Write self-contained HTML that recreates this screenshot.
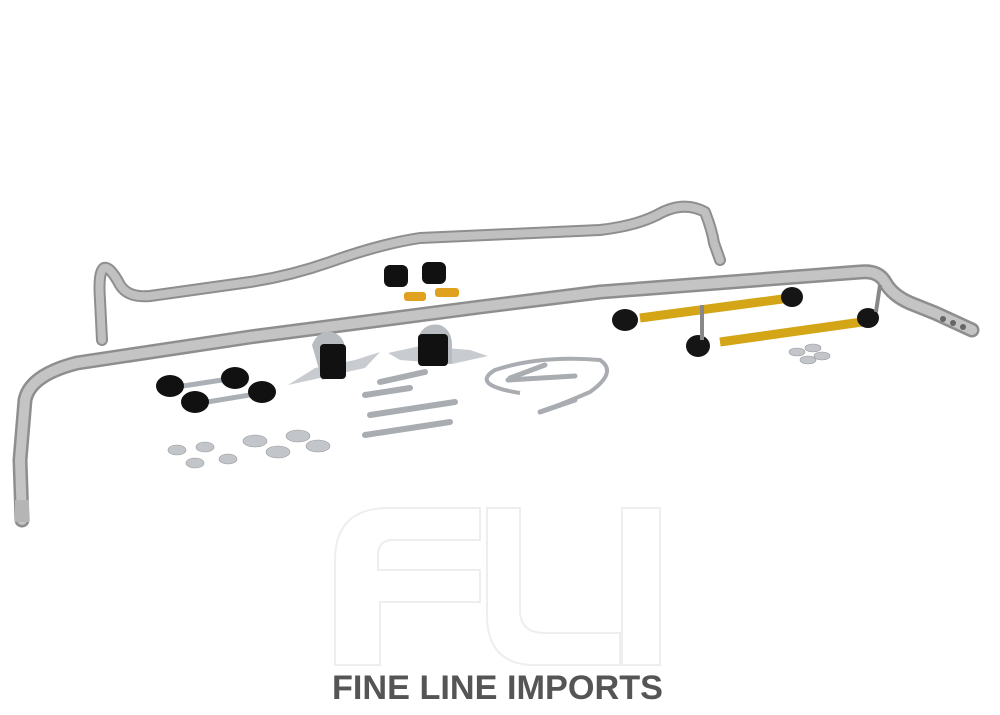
<!DOCTYPE html>
<html><head><meta charset="utf-8"><style>
html,body{margin:0;padding:0;background:#fff;width:1000px;height:715px;overflow:hidden}
svg{display:block}
</style></head><body>
<svg width="1000" height="715" viewBox="0 0 1000 715" xmlns="http://www.w3.org/2000/svg">
<rect width="1000" height="715" fill="#fff"/>
<g fill="none" stroke="#eeeeee" stroke-width="2">
<path d="M335 665 V560 Q335 510 385 508 H480 V540 H390 Q378 542 378 555 V570 H480 V602 H380 V665 Z"/>
<path d="M487 508 H520 V610 Q520 633 545 633 H620 V665 H535 Q487 665 487 615 Z"/>
<path d="M622 508 H660 V665 H622 Z"/>
</g>
<g fill="none" stroke-linecap="round" stroke-linejoin="round">
<path d="M102 340 L100 300 Q98 272 104 268 Q110 266 120 285 Q128 298 150 296 L250 282 Q290 276 330 262 Q380 244 420 238 L600 230 Q635 226 657 215 Q683 200 705 212 Q712 230 714 243 L720 260" stroke="#8e8e8e" stroke-width="12"/>
<path d="M102 340 L100 300 Q98 272 104 268 Q110 266 120 285 Q128 298 150 296 L250 282 Q290 276 330 262 Q380 244 420 238 L600 230 Q635 226 657 215 Q683 200 705 212 Q712 230 714 243 L720 260" stroke="#c0c0c0" stroke-width="8"/>
<path d="M22 520 L20 460 L25 400 Q30 375 77 363 L250 337 L480 307 L600 292 L860 272 Q878 270 885 282 Q892 295 910 303 L935 313 L972 330" stroke="#8e8e8e" stroke-width="15"/>
<path d="M22 520 L20 460 L25 400 Q30 375 77 363 L250 337 L480 307 L600 292 L860 272 Q878 270 885 282 Q892 295 910 303 L935 313 L972 330" stroke="#c4c4c4" stroke-width="10"/>
</g>
<circle cx="953" cy="323" r="3" fill="#666"/><circle cx="963" cy="327" r="3" fill="#666"/><circle cx="943" cy="319" r="3" fill="#666"/>
<rect x="15" y="500" width="14" height="22" fill="#b5b5b5"/>
<rect x="384" y="265" width="24" height="22" rx="6" fill="#111"/>
<rect x="422" y="262" width="24" height="22" rx="6" fill="#111"/>
<rect x="404" y="292" width="22" height="9" rx="3" fill="#e0a020"/>
<rect x="435" y="288" width="24" height="9" rx="3" fill="#e0a020"/>
<path d="M288 385 L315 368 L355 360 L380 352 L365 368 L320 378 Z" fill="#c8ccd0"/>
<path d="M312 345 Q318 330 332 332 Q345 336 345 350 V372 L322 380 Z" fill="#b8bcc0"/>
<rect x="320" y="344" width="26" height="35" rx="4" fill="#111"/>
<path d="M388 353 L420 346 L470 350 L488 356 L452 364 L400 360 Z" fill="#c8ccd0"/>
<path d="M418 338 Q424 322 440 325 Q452 330 452 345 V364 L418 362 Z" fill="#b8bcc0"/>
<rect x="418" y="334" width="30" height="32" rx="4" fill="#111"/>
<g stroke="#aab0b5" stroke-width="5" fill="none"><path d="M170 388 L235 378"/><path d="M195 404 L262 393"/></g>
<g fill="#111"><ellipse cx="170" cy="386" rx="14" ry="11"/><ellipse cx="235" cy="378" rx="14" ry="11"/><ellipse cx="262" cy="392" rx="14" ry="11"/><ellipse cx="195" cy="402" rx="14" ry="11"/></g>
<g stroke="#a9adb1" stroke-width="6" stroke-linecap="round"><line x1="380" y1="382" x2="425" y2="372"/><line x1="365" y1="395" x2="410" y2="388"/><line x1="370" y1="415" x2="455" y2="402"/><line x1="365" y1="435" x2="450" y2="422"/></g>
<path d="M520 393 Q470 385 495 370 Q540 355 600 360 Q618 372 590 392 Q560 405 545 410" fill="none" stroke="#a9adb1" stroke-width="4"/>
<g stroke="#a9adb1" stroke-width="5" stroke-linecap="round"><line x1="510" y1="378" x2="545" y2="365"/><line x1="508" y1="380" x2="575" y2="376"/><line x1="540" y1="412" x2="575" y2="400"/></g>
<g stroke="#d4a517" stroke-width="9"><line x1="640" y1="318" x2="790" y2="298"/><line x1="720" y1="342" x2="862" y2="322"/></g>
<g fill="#151515"><ellipse cx="625" cy="320" rx="13" ry="11"/><ellipse cx="792" cy="297" rx="11" ry="10"/><ellipse cx="698" cy="346" rx="12" ry="11"/><ellipse cx="868" cy="318" rx="11" ry="10"/></g>
<g stroke="#888" stroke-width="4"><line x1="702" y1="305" x2="702" y2="340"/><line x1="880" y1="285" x2="876" y2="312"/></g>
<g fill="#c2c6ca" stroke="#999" stroke-width="0.6">
<ellipse cx="177" cy="450" rx="9" ry="5"/><ellipse cx="205" cy="447" rx="9" ry="5"/><ellipse cx="195" cy="463" rx="9" ry="5"/><ellipse cx="228" cy="459" rx="9" ry="5"/><ellipse cx="255" cy="441" rx="12" ry="6"/><ellipse cx="278" cy="452" rx="12" ry="6"/><ellipse cx="298" cy="436" rx="12" ry="6"/><ellipse cx="318" cy="446" rx="12" ry="6"/>
<ellipse cx="797" cy="352" rx="8" ry="4"/><ellipse cx="813" cy="348" rx="8" ry="4"/><ellipse cx="822" cy="356" rx="8" ry="4"/><ellipse cx="808" cy="360" rx="8" ry="4"/>
</g>
<text x="332" y="699" font-family="Liberation Sans, sans-serif" font-weight="bold" font-size="34" fill="#555" textLength="331" lengthAdjust="spacingAndGlyphs">FINE LINE IMPORTS</text>
</svg>
</body></html>
